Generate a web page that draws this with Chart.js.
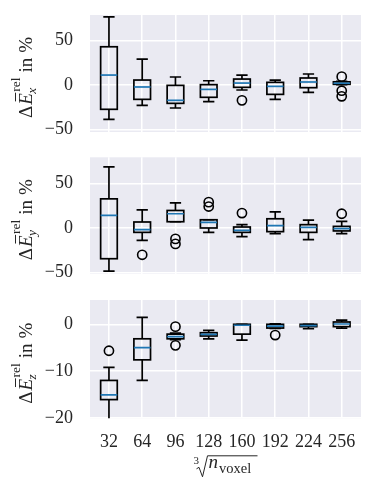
<!DOCTYPE html>
<html>
<head>
<meta charset="utf-8">
<script src="https://cdn.jsdelivr.net/npm/chart.js@4.4.0/dist/chart.umd.min.js"></script>
<style>
  html, body { margin: 0; padding: 0; background: #fff; }
  #wrap { position: relative; width: 374px; height: 488px; }
  canvas { position: absolute; left: 0; }
</style>
</head>
<body>
<div id="wrap">
  <canvas id="cx" width="374" height="140" style="top:0px"></canvas>
  <canvas id="cy" width="374" height="140" style="top:145px"></canvas>
  <canvas id="cz" width="374" height="198" style="top:290px"></canvas>
</div>
<script>
const categories = ['32', '64', '96', '128', '160', '192', '224', '256'];

// x component (top panel)
const xLo  = [-38.5, -22.8, -25.8, -18.7, -5.6, -16.1, -8.2, 0.3];
const xQ1  = [-27.3, -16.1, -20.6, -13.8, -2.6, -10.5, -3.0, 0.8];
const xMed = [11.2, -2.2, -17.2, -4.9, 2.2, -1.5, 3.4, 2.0];
const xQ3  = [43.0, 5.6, -0.4, 0.4, 6.7, 3.0, 7.9, 3.6];
const xHi  = [76.7, 29.2, 9.0, 4.8, 11.2, 5.6, 12.4, 4.2];
const xOut = [[], [], [], [], [-17.2], [], [], [9.4, -6.4, -12.7]];

// y component (middle panel)
const yLo  = [-48.2, -13.8, 7.0, -4.9, -9.7, -6.3, -13.0, -6.3];
const yQ1  = [-34.4, -4.9, 7.0, 0.0, -4.9, -4.1, -4.9, -3.3];
const yMed = [14.0, -1.9, 15.9, 6.2, -2.6, 2.6, 0.7, -0.8];
const yQ3  = [32.6, 6.7, 19.6, 9.2, 1.1, 10.3, 3.7, 1.8];
const yHi  = [68.4, 20.3, 28.1, 9.2, 3.7, 18.1, 8.9, 7.3];
const yOut = [[], [-30.0], [-12.2, -17.8], [28.9, 24.0], [16.7], [], [], [15.9]];

// z component (bottom panel)
const zLo  = [-21.5, -12.0, -3.3, -3.1, -3.4, -0.9, -0.95, -0.8];
const zQ1  = [-16.1, -7.6, -3.1, -2.5, -2.1, -0.8, -0.5, -0.5];
const zMed = [-15.1, -5.0, -2.65, -2.15, -0.2, -0.4, -0.3, 0.07];
const zQ3  = [-12.0, -3.1, -2.1, -1.8, 0.0, 0.0, 0.0, 0.5];
const zHi  = [-9.2, 1.5, -1.9, -1.3, 0.0, 0.1, 0.0, 0.9];
const zOut = [[-5.65], [], [-0.5, -4.5], [], [], [-2.3], [], []];

const serif = '"Liberation Serif", "DejaVu Serif", serif';
const textColor = '#262626';

// grey seaborn-like panel
const bgPlugin = {
  id: 'panelBg',
  beforeDraw(chart) {
    const a = chart.chartArea;
    const ctx = chart.ctx;
    ctx.save();
    ctx.fillStyle = '#eaeaf2';
    ctx.fillRect(a.left, a.top, a.right - a.left, a.bottom - a.top);
    ctx.restore();
  }
};

// boxes, whiskers, caps and medians
const boxPlugin = {
  id: 'boxes',
  beforeDatasetsDraw(chart, args, opts) {
    const ctx = chart.ctx;
    const a = chart.chartArea;
    const xs = chart.scales.x;
    const ys = chart.scales.y;
    ctx.save();
    ctx.beginPath();
    ctx.rect(a.left, a.top, a.right - a.left, a.bottom - a.top);
    ctx.clip();
    ctx.lineWidth = 1.7;
    for (let i = 0; i < opts.med.length; i++) {
      const c = xs.getPixelForValue(i + 1);
      const hw = xs.getPixelForValue(i + 1.25) - c;
      const cw = hw * 0.68;
      const lo = ys.getPixelForValue(opts.lo[i]);
      const q1 = ys.getPixelForValue(opts.q1[i]);
      const md = ys.getPixelForValue(opts.med[i]);
      const q3 = ys.getPixelForValue(opts.q3[i]);
      const hi = ys.getPixelForValue(opts.hi[i]);
      ctx.strokeStyle = '#000';
      ctx.beginPath();
      ctx.moveTo(c, q1); ctx.lineTo(c, lo);
      ctx.moveTo(c - cw, lo); ctx.lineTo(c + cw, lo);
      ctx.moveTo(c, q3); ctx.lineTo(c, hi);
      ctx.moveTo(c - cw, hi); ctx.lineTo(c + cw, hi);
      ctx.stroke();
      ctx.strokeRect(c - hw, q3, 2 * hw, q1 - q3);
      ctx.strokeStyle = '#1f77b4';
      ctx.beginPath();
      ctx.moveTo(c - hw, md); ctx.lineTo(c + hw, md);
      ctx.stroke();
    }
    ctx.restore();
  }
};

// rotated y label: Delta E-bar with sub/superscript, "in %"
const yLabelPlugin = {
  id: 'yLabel',
  afterDraw(chart, args, opts) {
    const ctx = chart.ctx;
    const a = chart.chartArea;
    const big = 19, small = 13.5;
    const fBig = big + 'px ' + serif;
    const fIt = 'italic ' + big + 'px ' + serif;
    const fSup = small + 'px ' + serif;
    const fSub = 'italic ' + small + 'px ' + serif;
    ctx.save();
    ctx.translate(32, (a.top + a.bottom) / 2);
    ctx.rotate(-Math.PI / 2);
    ctx.fillStyle = textColor;
    ctx.strokeStyle = textColor;
    ctx.textBaseline = 'alphabetic';
    ctx.font = fBig;
    const wD = ctx.measureText('\u0394').width;
    const wIn = ctx.measureText('in').width;
    const wPc = ctx.measureText('%').width;
    ctx.font = fIt;
    const wE = ctx.measureText('E').width;
    ctx.font = fSup;
    const wS = ctx.measureText('rel').width + 1.5;
    const total = wD + 1 + wE + wS + 5 + wIn + 5 + wPc;
    let px = -4 - total / 2;

    ctx.font = fBig;
    ctx.fillText('\u0394', px, 0);
    px += wD + 1;
    ctx.font = fIt;
    ctx.fillText('E', px, 0);
    ctx.lineWidth = 1;
    ctx.beginPath();
    ctx.moveTo(px + wE * 0.3, -16.5);
    ctx.lineTo(px + wE * 1.05, -16.5);
    ctx.stroke();
    px += wE;
    ctx.font = fSup;
    ctx.fillText('rel', px + 1.5, -12);
    ctx.font = fSub;
    ctx.fillText(opts.sub, px - 0.5, 4);
    px += wS + 5;
    ctx.font = fBig;
    ctx.fillText('in', px, 0);
    px += wIn + 5;
    ctx.fillText('%', px, 0);
    ctx.restore();
  }
};

// x title: cube root of n_voxel
const xTitlePlugin = {
  id: 'xTitle',
  afterDraw(chart, args, opts) {
    if (!opts.show) return;
    const ctx = chart.ctx;
    const a = chart.chartArea;
    const sx = (a.left + a.right) / 2 - 32;
    const base = a.bottom + 50;
    ctx.save();
    ctx.fillStyle = textColor;
    ctx.strokeStyle = textColor;
    ctx.textBaseline = 'alphabetic';
    ctx.font = '11px ' + serif;
    ctx.fillText('3', sx, base - 4);
    ctx.lineWidth = 1;
    ctx.beginPath();
    ctx.moveTo(sx + 3, base + 0.5);
    ctx.lineTo(sx + 5.5, base - 1);
    ctx.lineTo(sx + 9, base + 8.5);
    ctx.lineTo(sx + 14, base - 12.5);
    ctx.lineTo(sx + 64, base - 12.5);
    ctx.stroke();
    ctx.font = 'italic 19px ' + serif;
    ctx.fillText('n', sx + 15, base);
    const wn = ctx.measureText('n').width;
    ctx.font = '14.5px ' + serif;
    ctx.fillText('voxel', sx + 15 + wn + 1, base + 5);
    ctx.restore();
  }
};

function outlierPoints(out) {
  const pts = [];
  out.forEach((vals, i) => vals.forEach(v => pts.push({ x: i + 1, y: v })));
  return pts;
}

function makePanel(id, lo, q1, med, q3, hi, out, yMin, yMax, yStep, sub, pad, showX) {
  return new Chart(document.getElementById(id), {
    type: 'scatter',
    data: {
      datasets: [{
        data: outlierPoints(out),
        pointStyle: 'circle',
        pointRadius: 4.6,
        pointHoverRadius: 4.6,
        borderColor: '#000',
        borderWidth: 1.6,
        backgroundColor: 'rgba(0,0,0,0)'
      }]
    },
    options: {
      responsive: false,
      animation: false,
      layout: { padding: pad },
      plugins: {
        legend: { display: false },
        tooltip: { enabled: false },
        boxes: { lo: lo, q1: q1, med: med, q3: q3, hi: hi },
        yLabel: { sub: sub },
        xTitle: { show: showX }
      },
      scales: {
        x: {
          type: 'linear',
          min: 0.43,
          max: 8.58,
          afterFit: s => {
            s.height = showX ? 40 : 0;
            s.paddingLeft = 0; s.paddingRight = 0; s.paddingTop = 0; s.paddingBottom = 0;
          },
          afterBuildTicks: s => { s.ticks = categories.map((c, i) => ({ value: i + 1 })); },
          grid: { color: '#ffffff', lineWidth: 1.5, drawTicks: false },
          border: { display: false },
          ticks: {
            display: showX,
            padding: 13,
            color: textColor,
            font: { family: serif, size: 18 },
            maxRotation: 0,
            autoSkip: false,
            callback: v => categories[v - 1]
          }
        },
        y: {
          min: yMin,
          max: yMax,
          afterFit: s => {
            s.width = 90;
            s.paddingLeft = 0; s.paddingRight = 0; s.paddingTop = 0; s.paddingBottom = 0;
          },
          grid: { color: '#ffffff', lineWidth: 1.5, drawTicks: false },
          border: { display: false },
          ticks: {
            stepSize: yStep,
            includeBounds: false,
            padding: 17,
            color: textColor,
            font: { family: serif, size: 18 },
            callback: v => String(v).replace('-', '\u2212')
          }
        }
      }
    },
    plugins: [bgPlugin, boxPlugin, yLabelPlugin, xTitlePlugin]
  });
}

makePanel('cx', xLo, xQ1, xMed, xQ3, xHi, xOut, -52.8, 78.7, 50, 'x',
  { top: 15, bottom: 8, left: 0, right: 13 }, false);
makePanel('cy', yLo, yQ1, yMed, yQ3, yHi, yOut, -51.5, 79.1, 50, 'y',
  { top: 12.3, bottom: 11, left: 0, right: 13 }, false);
makePanel('cz', zLo, zQ1, zMed, zQ3, zHi, zOut, -20.1, 5.2, 10, 'z',
  { top: 10, bottom: 29.7, left: 0, right: 13 }, true);
</script>
</body>
</html>
